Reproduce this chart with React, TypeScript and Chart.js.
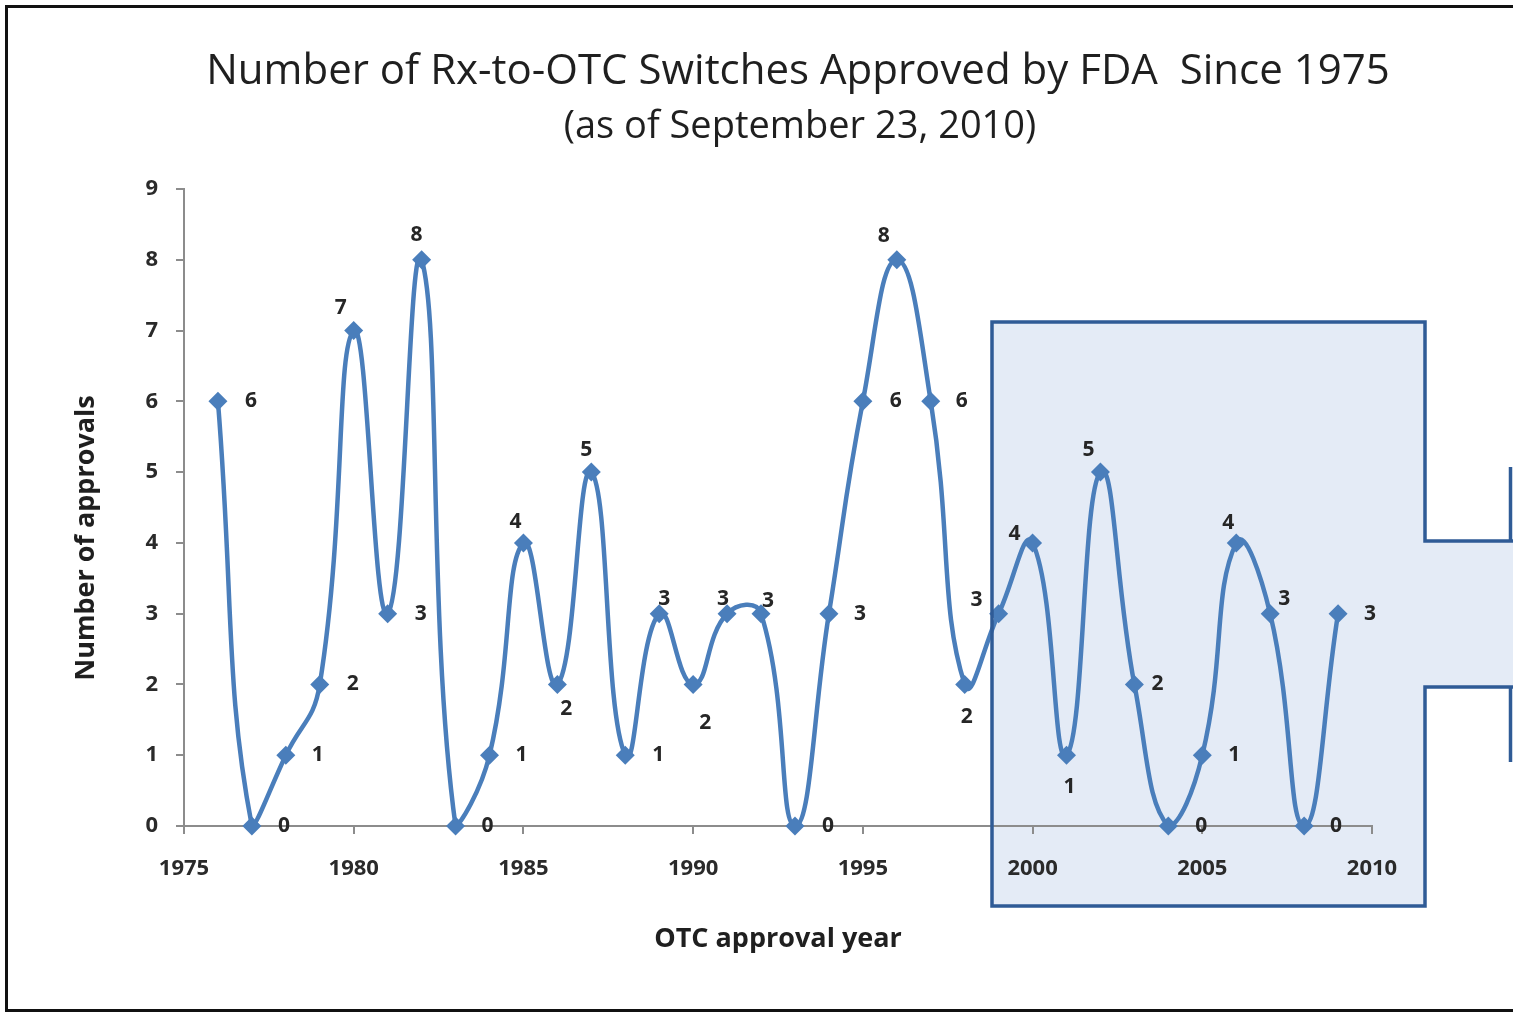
import React, { useEffect, useRef } from "react";
import { Chart, registerables } from "chart.js";

Chart.register(...registerables);

const years = [
  1976, 1977, 1978, 1979, 1980, 1981, 1982, 1983, 1984, 1985,
  1986, 1987, 1988, 1989, 1990, 1991, 1992, 1993, 1994, 1995,
  1996, 1997, 1998, 1999, 2000, 2001, 2002, 2003, 2004, 2005,
  2006, 2007, 2008, 2009,
];
const approvals = [
  6, 0, 1, 2, 7, 3, 8, 0, 1, 4,
  2, 5, 1, 3, 2, 3, 3, 0, 3, 6,
  8, 6, 2, 3, 4, 1, 5, 2, 0, 1,
  4, 3, 0, 3,
];
// label placement relative to each point (style only)
const labelOffsets: [number, number][] = [
  [33, 0], [32, 0], [32, 0], [33, 0], [-13, -23], [33, 0], [-5, -25], [32, 0], [32, 0], [-8, -21],
  [9, 25], [-5, -22], [33, 0], [5, -15], [12, 39], [-4, -15], [7, -13], [33, 0], [31, 0], [33, 0],
  [-13, -24], [31, 0], [2, 33], [-22, -14], [-18, -9], [3, 32], [-12, -22], [23, 0], [33, 0], [32, 0],
  [-8, -20], [14, -15], [32, 0], [32, 0],
];
const titleText = "Number of Rx-to-OTC Switches Approved by FDA  Since 1975";
const subtitleText = "(as of September 23, 2010)";
const xTitle = "OTC approval year";
const yTitle = "Number of approvals";
const xMin = 1975;
const xMax = 2010;
const xStep = 5;
const yMin = 0;
const yMax = 9;

const W = 1513;
const H = 1013;
const FONT = "'Open Sans', 'DejaVu Sans', sans-serif";
const LINE = "#4a7ebb";

const highlightFill: any = {
  id: "highlightFill",
  beforeDraw(chart: any) {
    const ctx = chart.ctx;
    ctx.save();
    ctx.fillStyle = "#ffffff";
    ctx.fillRect(0, 0, W, H);
    ctx.fillStyle = "#e4ebf6";
    ctx.beginPath();
    ctx.moveTo(992, 322);
    ctx.lineTo(1425, 322);
    ctx.lineTo(1425, 541);
    ctx.lineTo(W, 541);
    ctx.lineTo(W, 687);
    ctx.lineTo(1425, 687);
    ctx.lineTo(1425, 906);
    ctx.lineTo(992, 906);
    ctx.closePath();
    ctx.fill();

    // titles
    ctx.fillStyle = "#1f1f1f";
    ctx.textAlign = "center";
    ctx.textBaseline = "middle";
    ctx.font = `42px ${FONT}`;
    ctx.fillText(titleText, 798, 72);
    ctx.font = `38px ${FONT}`;
    ctx.fillText(subtitleText, 800, 127);

    // y axis title
    ctx.save();
    ctx.translate(86, 538);
    ctx.rotate(-Math.PI / 2);
    ctx.font = `bold 27px ${FONT}`;
    ctx.fillText(yTitle, 0, 0);
    ctx.restore();
    ctx.restore();
  },
};

const overlay: any = {
  id: "overlay",
  afterDatasetsDraw(chart: any) {
    const ctx = chart.ctx;
    ctx.save();
    // highlight border
    ctx.strokeStyle = "#2f5b96";
    ctx.lineWidth = 3.5;
    ctx.beginPath();
    ctx.moveTo(W, 541);
    ctx.lineTo(1425, 541);
    ctx.lineTo(1425, 322);
    ctx.lineTo(992, 322);
    ctx.lineTo(992, 906);
    ctx.lineTo(1425, 906);
    ctx.lineTo(1425, 687);
    ctx.lineTo(W, 687);
    ctx.stroke();
    ctx.beginPath();
    ctx.moveTo(1510.5, 467);
    ctx.lineTo(1510.5, 541);
    ctx.moveTo(1510.5, 687);
    ctx.lineTo(1510.5, 762);
    ctx.stroke();

    // data labels
    const meta = chart.getDatasetMeta(0);
    ctx.fillStyle = "#262626";
    ctx.font = `bold 21px ${FONT}`;
    ctx.textAlign = "center";
    ctx.textBaseline = "middle";
    meta.data.forEach((pt: any, i: number) => {
      const [dx, dy] = labelOffsets[i];
      ctx.fillText(String(approvals[i]), pt.x + dx, pt.y + dy);
    });

    // outer frame
    ctx.strokeStyle = "#111111";
    ctx.lineWidth = 3;
    ctx.beginPath();
    ctx.moveTo(W, 6.5);
    ctx.lineTo(6.5, 6.5);
    ctx.lineTo(6.5, 1010.5);
    ctx.lineTo(W, 1010.5);
    ctx.stroke();
    ctx.restore();
  },
};

export default function App() {
  const ref = useRef<HTMLCanvasElement | null>(null);

  useEffect(() => {
    if (!ref.current) return;
    const data = years.map((y, i) => ({ x: y, y: approvals[i] }));
    const chart = new Chart(ref.current, {
      type: "line",
      data: {
        datasets: [
          {
            data,
            borderColor: LINE,
            backgroundColor: LINE,
            borderWidth: 4.5,
            tension: 0.47,
            pointStyle: "rectRot",
            pointRadius: 9.5,
            pointBorderWidth: 0,
            pointBackgroundColor: LINE,
            clip: false as any,
          },
        ],
      },
      options: {
        animation: false,
        responsive: false,
        events: [],
        layout: {
          autoPadding: false,
          padding: { left: 60, right: W - 1372, top: 189, bottom: 0 },
        } as any,
        plugins: {
          legend: { display: false },
          tooltip: { enabled: false },
          title: { display: false },
          subtitle: { display: false },
        },
        scales: {
          x: {
            type: "linear",
            min: xMin,
            max: xMax,
            afterFit(scale: any) {
              scale.height = H - 826;
            },
            ticks: {
              stepSize: xStep,
              color: "#2a2a2a",
              font: { family: FONT, size: 22, weight: "bold" as any },
              padding: 22,
              maxRotation: 0,
              callback: (v: any) => String(v),
            },
            grid: {
              drawOnChartArea: false,
              drawTicks: true,
              tickLength: 8,
              color: "#8c8c8c",
              lineWidth: 2,
            },
            border: { display: true, color: "#8c8c8c", width: 2 },
            title: {
              display: true,
              text: xTitle,
              color: "#1f1f1f",
              font: { family: FONT, size: 27, weight: "bold" as any },
              padding: { top: 0, bottom: 57.8 },
            },
          },
          y: {
            type: "linear",
            min: yMin,
            max: yMax,
            afterFit(scale: any) {
              scale.width = 184 - 60;
            },
            ticks: {
              stepSize: 1,
              color: "#2a2a2a",
              font: { family: FONT, size: 22, weight: "bold" as any },
              padding: 18,
            },
            grid: {
              drawOnChartArea: false,
              drawTicks: true,
              tickLength: 8,
              color: "#8c8c8c",
              lineWidth: 2,
            },
            border: { display: true, color: "#8c8c8c", width: 2 },
            title: { display: false },
          },
        },
      },
      plugins: [highlightFill, overlay],
    });
    return () => chart.destroy();
  }, []);

  return (
    <div style={{ position: "absolute", left: 0, top: 0, width: W, height: H }}>
      <canvas ref={ref} width={W} height={H} style={{ width: W, height: H, display: "block" }} />
    </div>
  );
}
